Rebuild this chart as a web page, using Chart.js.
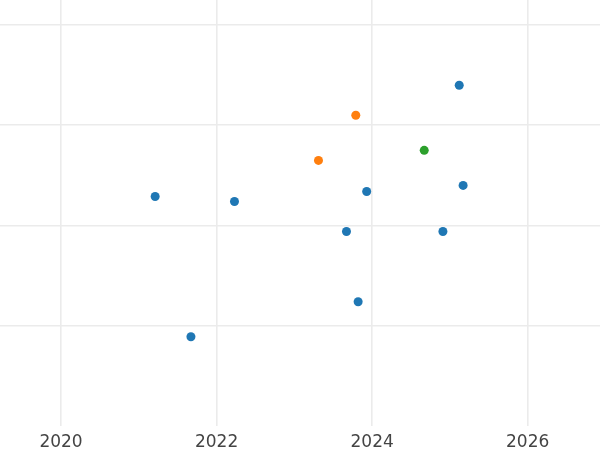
<!DOCTYPE html>
<html lang="en">
  <head>
    <meta charset="UTF-8" />
    <title>Scatter</title>
    <script src="https://cdn.jsdelivr.net/npm/chart.js"></script>
    <style>
      html, body { margin: 0; padding: 0; background: #fff; }
      #wrap { width: 600px; height: 450px; }
    </style>
  </head>
  <body>
    <div id="wrap"><canvas id="myChart"></canvas></div>
    <script>
      // values
      const blueX = [2021.21, 2022.23, 2021.67, 2023.67, 2024.91, 2023.82, 2025.12, 2023.93, 2025.17];
      const blueY = [2.29, 2.24, 0.89, 1.94, 1.94, 1.24, 3.40, 2.34, 2.40];
      const orangeX = [2023.79, 2023.31];
      const orangeY = [3.10, 2.65];
      const greenX = [2024.67];
      const greenY = [2.75];
      const xTicks = [2020, 2022, 2024, 2026];

      const pts = (xs, ys) => xs.map((x, i) => ({ x: x, y: ys[i] }));
      const series = (data, color) => ({
        data: data,
        backgroundColor: color,
        borderWidth: 0,
        pointRadius: 4.5,
        pointHoverRadius: 4.5
      });

      const config = {
        type: 'scatter',
        data: {
          datasets: [
            series(pts(blueX, blueY), '#1f77b4'),
            series(pts(orangeX, orangeY), '#ff7f0e'),
            series(pts(greenX, greenY), '#2ca02c')
          ]
        },
        options: {
          responsive: false,
          animation: false,
          layout: { padding: 0, autoPadding: false },
          plugins: { legend: { display: false }, tooltip: { enabled: false } },
          scales: {
            x: {
              type: 'linear',
              min: 2019.215,
              max: 2026.93,
              afterBuildTicks: (axis) => { axis.ticks = xTicks.map(v => ({ value: v })); },
              afterFit: (axis) => { axis.height = 24; },
              border: { display: false },
              grid: { color: '#ebebeb', lineWidth: 1.6, drawTicks: false },
              ticks: {
                padding: 8,
                color: '#444',
                font: { family: 'DejaVu Sans', size: 17, lineHeight: 1.05 },
                callback: (v) => String(v)
              }
            },
            y: {
              min: 0,
              max: 4.25,
              border: { display: false },
              grid: {
                color: (c) => (c.tick && c.tick.value === 0 ? 'rgba(0,0,0,0)' : '#ebebeb'),
                lineWidth: 1.6,
                drawTicks: false
              },
              ticks: { display: false, stepSize: 1, includeBounds: false }
            }
          }
        }
      };

      const canvas = document.getElementById('myChart');
      canvas.width = 600;
      canvas.height = 450;
      new Chart(canvas, config);
    </script>
  </body>
</html>
